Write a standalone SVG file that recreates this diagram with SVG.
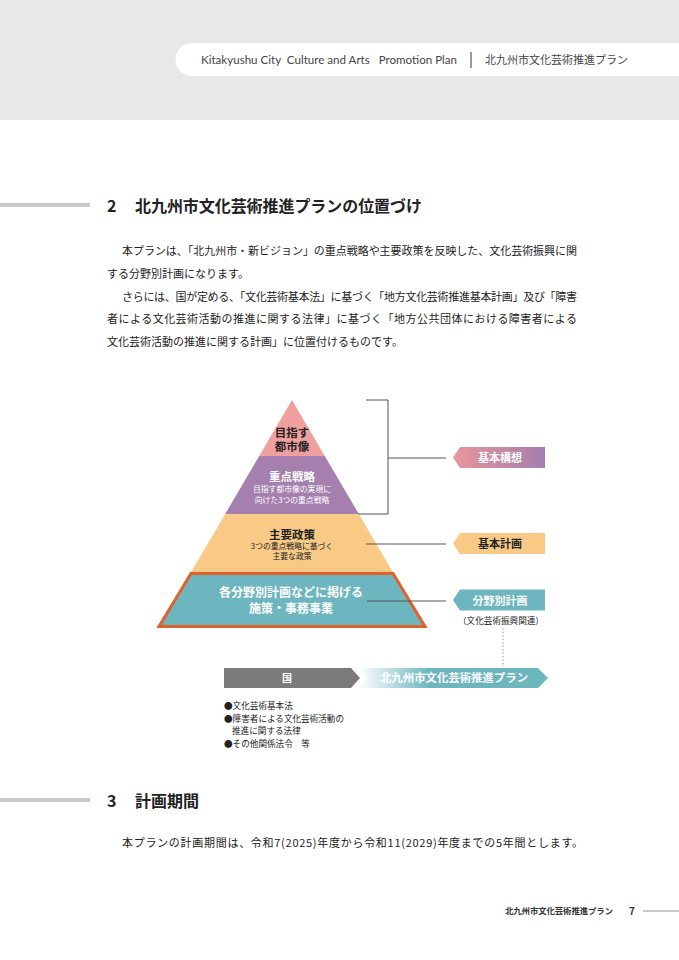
<svg xmlns="http://www.w3.org/2000/svg" width="679" height="960" viewBox="0 0 679 960">
<style>
.jp{font-family:"Noto Sans CJK JP","Noto Sans",sans-serif;}
.body{font-family:"Noto Sans CJK JP",sans-serif;font-size:11px;fill:#222;}
.h{font-family:"Noto Sans CJK JP",sans-serif;font-size:16px;font-weight:700;fill:#222;}
.pt{font-family:"Noto Sans CJK JP",sans-serif;font-weight:700;text-anchor:middle;}
.pt2{font-family:"Liberation Sans","Noto Sans CJK JP",sans-serif;font-weight:700;text-anchor:middle;}
.ps{font-family:"Noto Sans CJK JP",sans-serif;font-size:7.8px;text-anchor:middle;}
.lbl{font-family:"Noto Sans CJK JP",sans-serif;font-size:11px;font-weight:700;text-anchor:middle;}
.conn{stroke:#555;stroke-width:1;fill:none;}
.bul{font-family:"Noto Sans CJK JP",sans-serif;font-size:8.6px;fill:#222;}
</style>
<defs>
<linearGradient id="gKoso" x1="0" y1="0" x2="1" y2="0">
<stop offset="0" stop-color="#ea959b"/>
<stop offset="1" stop-color="#a47fae"/>
</linearGradient>
<linearGradient id="gPlan" gradientUnits="userSpaceOnUse" x1="358" y1="0" x2="430" y2="0">
<stop offset="0" stop-color="#6cb6be" stop-opacity="0"/>
<stop offset="1" stop-color="#6cb6be"/>
</linearGradient>
</defs>
<rect width="679" height="960" fill="#ffffff"/>
<!-- header -->
<g id="header">
<rect x="0" y="0" width="679" height="120" fill="#e8e8e9"/>
<path d="M192,43 H679 V76 H192 A16.5,16.5 0 0 1 192,43 Z" fill="#ffffff"/>
<text x="201" y="63.5" font-family="Lato,'Liberation Sans',sans-serif" font-size="10.5" fill="#444" textLength="256" lengthAdjust="spacingAndGlyphs" xml:space="preserve">Kitakyushu City  Culture and Arts   Promotion Plan</text>
<line x1="471" y1="52" x2="471" y2="68" stroke="#555" stroke-width="1.2"/>
<text x="485" y="64" class="jp" font-size="11" fill="#444" textLength="143">北九州市文化芸術推進プラン</text>
</g>
<!-- section 2 heading -->
<g id="heading2">
<rect x="0" y="203" width="90" height="4" fill="#c9c9c9"/>
<text x="107" y="211.5" class="h">2</text>
<text x="135" y="211.5" class="h" textLength="287">北九州市文化芸術推進プランの位置づけ</text>
</g>
<g id="para">
<text x="122" y="255" class="body" textLength="455" lengthAdjust="spacing">本プランは、「北九州市・新ビジョン」の重点戦略や主要政策を反映した、文化芸術振興に関</text>
<text x="107" y="278" class="body">する分野別計画になります。</text>
<text x="122" y="300.5" class="body" textLength="455" lengthAdjust="spacing">さらには、国が定める、「文化芸術基本法」に基づく「地方文化芸術推進基本計画」及び「障害</text>
<text x="107" y="323" class="body" textLength="470" lengthAdjust="spacing">者による文化芸術活動の推進に関する法律」に基づく「地方公共団体における障害者による</text>
<text x="107" y="345.5" class="body">文化芸術活動の推進に関する計画」に位置付けるものです。</text>
</g>
<!-- pyramid -->
<g id="tier-mokuhyo">
<polygon points="292,400 324.8,456 259.2,456" fill="#ef9f9d"/>
<text x="292" y="437" class="pt2" font-size="11.5" fill="#222">目指す</text>
<text x="292" y="451" class="pt2" font-size="11.5" fill="#222">都市像</text>
</g>
<g id="tier-juten">
<polygon points="259.2,456 324.8,456 358.8,514 225.2,514" fill="#a57fae"/>
<text x="292" y="480.5" class="pt" font-size="11.5" fill="#ffffff">重点戦略</text>
<text class="ps" fill="#ffffff"><tspan x="292" y="492.3">目指す都市像の実現に</tspan><tspan x="292" y="502.5">向けた3つの重点戦略</tspan></text>
</g>
<g id="tier-shuyo">
<polygon points="225.2,514 358.8,514 392.8,572 191.2,572" fill="#f8ca86"/>
<text x="292" y="538.5" class="pt" font-size="11.5" fill="#222">主要政策</text>
<text class="ps" fill="#222"><tspan x="292" y="549">3つの重点戦略に基づく</tspan><tspan x="292" y="559">主要な政策</tspan></text>
</g>
<g id="tier-shisaku">
<polygon points="191,573.5 393,573.5 425,626.5 159,626.5" fill="#6db6bf" stroke="#e0622a" stroke-width="3" stroke-linejoin="miter"/>
<text class="pt" font-size="12" fill="#ffffff"><tspan x="291" y="597">各分野別計画などに掲げる</tspan><tspan x="291" y="612.5">施策・事務事業</tspan></text>
</g>
<!-- connectors -->
<g id="connectors">
<polyline class="conn" points="366,400 388,400 388,514 358,514"/>
<line class="conn" x1="388" y1="458" x2="446" y2="458"/>
<line class="conn" x1="366" y1="544" x2="446" y2="544"/>
<line class="conn" x1="367" y1="601" x2="446" y2="601"/>
<line x1="503" y1="628" x2="503" y2="667" stroke="#999" stroke-width="1" stroke-dasharray="1.5,2"/>
</g>
<!-- labels -->
<g id="label-koso">
<polygon points="453,457.5 460,447 545,447 545,468 460,468" fill="url(#gKoso)"/>
<text x="500" y="462" class="lbl" fill="#ffffff">基本構想</text>
</g>
<g id="label-keikaku">
<polygon points="453,543.5 460,533 545,533 545,554 460,554" fill="#f8ca86"/>
<text x="500" y="548" class="lbl" fill="#222">基本計画</text>
</g>
<g id="label-bunya">
<polygon points="453,600 460,589.5 545,589.5 545,610.5 460,610.5" fill="#6db6bf"/>
<text x="500" y="604.5" class="lbl" fill="#ffffff">分野別計画</text>
<text x="501" y="624" class="jp" font-size="8.6" fill="#222" text-anchor="middle">（文化芸術振興関連）</text>
</g>
<!-- bottom arrows -->
<g id="arrow-kuni">
<polygon points="224,668 351,668 360,678 351,688 224,688" fill="#7b7b7b"/>
<text x="287" y="681.8" class="jp" font-size="10" font-weight="700" fill="#ffffff" text-anchor="middle">国</text>
</g>
<g id="arrow-plan">
<polygon points="358,668 538,668 548,678 538,688 358,688 367,678" fill="url(#gPlan)"/>
<text x="454" y="682" class="jp" font-size="11.4" font-weight="700" fill="#ffffff" text-anchor="middle">北九州市文化芸術推進プラン</text>
</g>
<g id="laws">
<text x="224" y="709" class="bul">●文化芸術基本法</text>
<text x="224" y="721.5" class="bul">●障害者による文化芸術活動の</text>
<text x="232" y="734" class="bul">推進に関する法律</text>
<text x="224" y="746.5" class="bul" xml:space="preserve">●その他関係法令　等</text>
</g>
<!-- section 3 -->
<g id="heading3">
<rect x="0" y="798" width="90" height="4" fill="#c9c9c9"/>
<text x="107" y="806.5" class="h">3</text>
<text x="135" y="806.5" class="h">計画期間</text>
</g>
<text x="122" y="847" class="body" textLength="461" lengthAdjust="spacing">本プランの計画期間は、令和7(2025)年度から令和11(2029)年度までの5年間とします。</text>
<!-- footer -->
<g id="footer">
<text x="505" y="914" class="jp" font-size="8.4" font-weight="700" fill="#333" textLength="108">北九州市文化芸術推進プラン</text>
<text x="629" y="914.5" class="jp" font-size="10" font-weight="700" fill="#333">7</text>
<line x1="643" y1="911" x2="679" y2="911" stroke="#777" stroke-width="0.8"/>
</g>
</svg>
